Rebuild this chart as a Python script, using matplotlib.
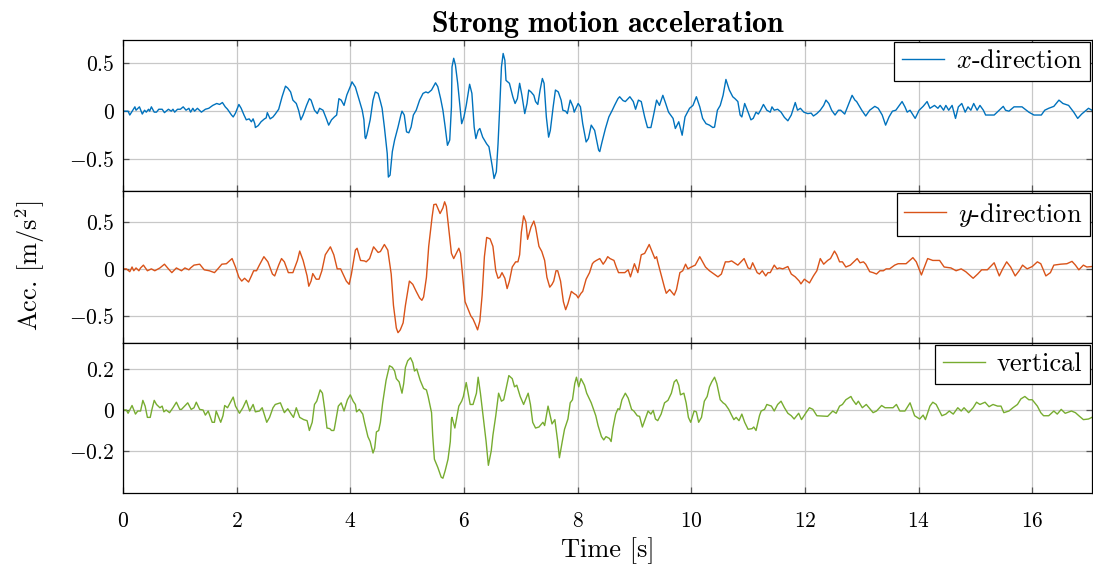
import numpy as np
import matplotlib
matplotlib.use("Agg")
import matplotlib.pyplot as plt
from matplotlib.ticker import FixedLocator, FixedFormatter

# ---- data (time [s], acceleration [m/s^2]) ----
x_dir = [
    (0.00, 0.00), (0.09, 0.00), (0.12, -0.04), (0.21, 0.045), (0.23, 0.01), (0.29, 0.045),
    (0.34, -0.03), (0.38, 0.01), (0.41, -0.01), (0.45, 0.02), (0.47, 0.00), (0.50, 0.045),
    (0.55, -0.01), (0.59, -0.01), (0.63, 0.02), (0.69, 0.02), (0.73, -0.015), (0.80, 0.02),
    (0.85, 0.00), (0.88, 0.02), (0.91, -0.01), (0.96, 0.02), (1.01, 0.02), (1.06, 0.045),
    (1.11, 0.01), (1.16, 0.03), (1.19, -0.01), (1.23, 0.03), (1.26, 0.00), (1.31, 0.03),
    (1.38, -0.01), (1.45, 0.02), (1.51, 0.03), (1.58, 0.06), (1.65, 0.08), (1.70, 0.07),
    (1.75, 0.09), (1.80, 0.045), (1.84, 0.02), (1.91, -0.04), (1.94, -0.06), (1.98, -0.02),
    (2.04, 0.07), (2.08, 0.03), (2.13, -0.04), (2.17, -0.09), (2.22, -0.08), (2.26, -0.11),
    (2.29, -0.08), (2.32, -0.13), (2.33, -0.17), (2.38, -0.15), (2.43, -0.11), (2.49, -0.08),
    (2.52, -0.07), (2.54, -0.015), (2.59, -0.08), (2.64, -0.06), (2.68, -0.03), (2.74, 0.02),
    (2.80, 0.15), (2.86, 0.26), (2.90, 0.24), (2.95, 0.20), (2.99, 0.115), (3.05, 0.08),
    (3.09, 0.01), (3.13, -0.09), (3.17, -0.04), (3.23, 0.06), (3.28, 0.13), (3.31, 0.115),
    (3.37, 0.01), (3.42, -0.025), (3.46, 0.03), (3.52, 0.01), (3.58, -0.08), (3.62, -0.145),
    (3.67, -0.09), (3.72, -0.06), (3.76, -0.04), (3.80, 0.13), (3.84, 0.115), (3.89, 0.06),
    (3.94, 0.17), (4.01, 0.27), (4.03, 0.305), (4.09, 0.25), (4.15, 0.13), (4.21, 0.01),
    (4.24, -0.09), (4.26, -0.27), (4.27, -0.285), (4.29, -0.25), (4.35, -0.09), (4.40, 0.115),
    (4.44, 0.20), (4.49, 0.185), (4.53, 0.10), (4.56, 0.03), (4.60, -0.165), (4.65, -0.44),
    (4.67, -0.685), (4.70, -0.665), (4.74, -0.42), (4.78, -0.30), (4.84, -0.165), (4.89, -0.04),
    (4.91, 0.00), (4.95, -0.04), (4.99, -0.215), (5.03, -0.225), (5.07, -0.165), (5.11, -0.04),
    (5.16, 0.01), (5.22, 0.115), (5.28, 0.185), (5.33, 0.20), (5.37, 0.19), (5.43, 0.22),
    (5.50, 0.295), (5.54, 0.255), (5.59, 0.13), (5.63, 0.01), (5.67, -0.165), (5.71, -0.355),
    (5.75, -0.30), (5.78, 0.045), (5.79, 0.46), (5.82, 0.55), (5.85, 0.48), (5.89, 0.29),
    (5.94, -0.01), (5.96, -0.13), (6.00, -0.06), (6.04, 0.06), (6.10, 0.28), (6.14, 0.185),
    (6.18, -0.165), (6.21, -0.285), (6.25, -0.20), (6.28, -0.18), (6.33, -0.27), (6.40, -0.34),
    (6.44, -0.37), (6.50, -0.58), (6.53, -0.70), (6.57, -0.63), (6.60, -0.34), (6.63, 0.045),
    (6.66, 0.46), (6.69, 0.60), (6.72, 0.53), (6.74, 0.32), (6.80, 0.29), (6.86, 0.15),
    (6.90, 0.08), (6.94, 0.13), (6.98, 0.29), (7.02, 0.165), (7.07, -0.025), (7.11, 0.08),
    (7.14, 0.22), (7.18, 0.20), (7.23, 0.165), (7.26, 0.10), (7.30, 0.07), (7.34, 0.22),
    (7.38, 0.34), (7.41, 0.29), (7.45, -0.06), (7.49, -0.27), (7.52, -0.20), (7.57, 0.045),
    (7.61, 0.22), (7.66, 0.20), (7.71, 0.115), (7.74, 0.01), (7.79, 0.00), (7.82, -0.025),
    (7.87, 0.115), (7.92, 0.045), (7.94, -0.01), (8.01, 0.08), (8.05, 0.045), (8.09, -0.13),
    (8.15, -0.32), (8.19, -0.285), (8.24, -0.145), (8.30, -0.20), (8.37, -0.405), (8.39, -0.42),
    (8.43, -0.32), (8.49, -0.18), (8.55, -0.06), (8.61, 0.01), (8.65, 0.06), (8.71, 0.13),
    (8.74, 0.15), (8.80, 0.11), (8.84, 0.10), (8.92, 0.15), (8.98, 0.10), (9.02, 0.02),
    (9.07, 0.115), (9.12, 0.10), (9.18, -0.06), (9.23, -0.17), (9.29, -0.17), (9.33, -0.06),
    (9.39, 0.115), (9.44, 0.06), (9.50, 0.165), (9.55, 0.08), (9.60, -0.01), (9.68, -0.075),
    (9.72, -0.18), (9.78, -0.11), (9.84, -0.25), (9.89, -0.06), (9.97, 0.03), (10.03, 0.06),
    (10.09, 0.15), (10.15, 0.045), (10.20, -0.075), (10.26, -0.13), (10.32, -0.145), (10.38, -0.17),
    (10.41, -0.165), (10.46, 0.01), (10.51, 0.06), (10.56, 0.165), (10.61, 0.33), (10.67, 0.22),
    (10.73, 0.15), (10.77, 0.13), (10.82, 0.10), (10.86, -0.04), (10.89, -0.06), (10.94, 0.08),
    (11.00, -0.01), (11.05, -0.09), (11.09, -0.075), (11.14, -0.01), (11.18, -0.03), (11.22, 0.01),
    (11.27, 0.07), (11.33, 0.01), (11.39, -0.01), (11.42, 0.045), (11.46, 0.01), (11.52, 0.02),
    (11.58, -0.01), (11.64, -0.065), (11.70, -0.10), (11.76, -0.04), (11.83, 0.09), (11.87, 0.01),
    (11.92, 0.03), (11.98, -0.01), (12.05, -0.025), (12.11, -0.02), (12.15, -0.05), (12.21, -0.025),
    (12.27, 0.01), (12.33, 0.06), (12.37, 0.115), (12.42, 0.08), (12.47, 0.01), (12.53, -0.04),
    (12.59, 0.01), (12.63, 0.01), (12.70, -0.03), (12.76, 0.06), (12.83, 0.165), (12.88, 0.115),
    (12.91, 0.10), (13.00, 0.01), (13.07, -0.05), (13.14, 0.01), (13.23, 0.05), (13.29, 0.03),
    (13.36, -0.04), (13.42, -0.145), (13.48, -0.06), (13.54, 0.00), (13.60, 0.01), (13.71, 0.10),
    (13.76, 0.045), (13.80, -0.01), (13.85, 0.01), (13.94, -0.075), (14.01, 0.01), (14.08, 0.05),
    (14.15, 0.10), (14.20, 0.03), (14.28, 0.06), (14.34, 0.03), (14.38, 0.06), (14.44, 0.01),
    (14.48, 0.06), (14.53, 0.01), (14.59, 0.06), (14.65, -0.075), (14.70, 0.045), (14.76, 0.08),
    (14.82, -0.01), (14.87, 0.045), (14.92, 0.01), (14.97, 0.08), (15.03, 0.01), (15.08, 0.06),
    (15.14, 0.01), (15.18, -0.04), (15.33, -0.04), (15.42, 0.01), (15.49, 0.05), (15.53, 0.01),
    (15.59, 0.00), (15.68, 0.045), (15.82, 0.045), (15.94, -0.01), (16.03, -0.04), (16.16, -0.04),
    (16.22, 0.01), (16.29, 0.03), (16.38, 0.05), (16.47, 0.115), (16.54, 0.08), (16.64, 0.06),
    (16.73, -0.01), (16.80, -0.075), (16.87, -0.03), (16.99, 0.03), (17.05, 0.01),
]

y_dir = [
    (0.00, 0.00), (0.06, 0.00), (0.12, -0.03), (0.16, 0.02), (0.19, -0.02), (0.23, 0.01),
    (0.28, -0.02), (0.31, 0.01), (0.36, 0.04), (0.43, -0.02), (0.50, 0.00), (0.56, -0.02),
    (0.65, 0.01), (0.73, 0.05), (0.80, 0.00), (0.86, -0.04), (0.94, 0.01), (1.03, -0.02),
    (1.09, 0.01), (1.16, -0.01), (1.19, 0.01), (1.25, 0.04), (1.35, 0.05), (1.43, -0.01),
    (1.52, -0.02), (1.61, -0.04), (1.67, 0.00), (1.74, 0.05), (1.82, 0.055), (1.92, 0.11),
    (1.98, 0.02), (2.04, -0.09), (2.09, -0.13), (2.14, -0.10), (2.21, -0.14), (2.26, -0.075),
    (2.30, -0.02), (2.35, -0.02), (2.40, 0.04), (2.48, 0.13), (2.55, 0.075), (2.63, -0.055),
    (2.67, -0.075), (2.74, 0.04), (2.79, 0.11), (2.84, 0.075), (2.91, -0.04), (2.99, -0.04),
    (3.07, 0.09), (3.11, 0.19), (3.17, 0.09), (3.24, -0.075), (3.27, -0.185), (3.31, -0.13),
    (3.34, -0.05), (3.40, -0.11), (3.45, -0.11), (3.50, -0.02), (3.56, 0.15), (3.65, 0.235),
    (3.71, 0.15), (3.77, 0.00), (3.83, 0.00), (3.93, -0.13), (3.98, -0.165), (4.02, -0.055),
    (4.09, 0.20), (4.12, 0.22), (4.18, 0.09), (4.25, 0.085), (4.28, 0.075), (4.34, 0.11),
    (4.41, 0.235), (4.49, 0.175), (4.53, 0.185), (4.60, 0.26), (4.66, 0.20), (4.72, -0.055),
    (4.76, -0.39), (4.81, -0.63), (4.84, -0.68), (4.88, -0.65), (4.93, -0.575), (4.97, -0.39),
    (5.04, -0.13), (5.10, -0.165), (5.16, -0.24), (5.22, -0.31), (5.26, -0.335), (5.29, -0.30),
    (5.34, -0.09), (5.38, 0.24), (5.44, 0.555), (5.47, 0.685), (5.51, 0.69), (5.58, 0.59),
    (5.63, 0.65), (5.66, 0.715), (5.69, 0.665), (5.74, 0.39), (5.78, 0.165), (5.82, 0.11),
    (5.88, 0.185), (5.91, 0.22), (5.94, 0.165), (5.98, -0.09), (6.02, -0.35), (6.07, -0.425),
    (6.12, -0.50), (6.16, -0.535), (6.20, -0.59), (6.24, -0.65), (6.28, -0.555), (6.32, -0.28),
    (6.36, 0.13), (6.40, 0.335), (6.46, 0.32), (6.51, 0.24), (6.56, -0.02), (6.60, -0.10),
    (6.63, -0.09), (6.67, -0.04), (6.72, -0.10), (6.76, -0.21), (6.80, -0.13), (6.85, 0.02),
    (6.91, 0.075), (6.95, 0.075), (6.98, 0.15), (7.01, 0.39), (7.05, 0.565), (7.09, 0.50),
    (7.12, 0.315), (7.18, 0.445), (7.23, 0.51), (7.26, 0.445), (7.32, 0.24), (7.37, 0.185),
    (7.42, 0.09), (7.46, -0.09), (7.51, -0.195), (7.55, -0.165), (7.58, -0.13), (7.62, -0.02),
    (7.65, -0.02), (7.70, -0.13), (7.75, -0.35), (7.79, -0.435), (7.83, -0.37), (7.89, -0.24),
    (7.93, -0.26), (7.98, -0.28), (8.01, -0.31), (8.06, -0.26), (8.09, -0.24), (8.15, -0.11),
    (8.21, -0.04), (8.26, 0.055), (8.29, 0.075), (8.33, 0.09), (8.39, 0.11), (8.45, 0.05),
    (8.49, 0.085), (8.53, 0.13), (8.57, 0.11), (8.64, 0.09), (8.68, 0.02), (8.72, -0.04),
    (8.83, -0.04), (8.89, -0.01), (8.93, -0.085), (9.00, 0.055), (9.06, -0.04), (9.12, 0.15),
    (9.18, 0.165), (9.26, 0.26), (9.31, 0.185), (9.36, 0.11), (9.39, 0.13), (9.41, 0.075),
    (9.46, -0.04), (9.53, -0.20), (9.56, -0.26), (9.62, -0.22), (9.70, -0.28), (9.74, -0.22),
    (9.80, -0.04), (9.85, -0.02), (9.90, 0.05), (9.94, 0.00), (10.00, 0.02), (10.07, 0.04),
    (10.15, 0.13), (10.20, 0.075), (10.25, 0.02), (10.32, -0.02), (10.40, -0.055), (10.47, -0.085),
    (10.53, -0.055), (10.60, 0.075), (10.66, 0.075), (10.71, 0.085), (10.82, 0.04), (10.93, 0.11),
    (11.00, 0.01), (11.04, 0.00), (11.08, 0.065), (11.16, -0.04), (11.20, -0.055), (11.25, -0.02),
    (11.31, -0.075), (11.35, -0.04), (11.39, -0.04), (11.46, 0.04), (11.51, 0.00), (11.55, 0.01),
    (11.61, 0.00), (11.70, 0.025), (11.76, -0.055), (11.83, -0.085), (11.90, -0.13), (11.93, -0.16),
    (11.99, -0.11), (12.08, -0.15), (12.15, -0.075), (12.21, -0.02), (12.27, 0.11), (12.33, 0.05),
    (12.40, 0.09), (12.45, 0.11), (12.52, 0.19), (12.56, 0.15), (12.61, 0.075), (12.66, 0.075),
    (12.72, 0.02), (12.80, 0.04), (12.86, 0.075), (12.92, 0.11), (12.97, 0.065), (13.03, 0.075),
    (13.07, 0.05), (13.14, -0.03), (13.20, -0.04), (13.26, -0.055), (13.32, -0.02), (13.38, -0.02),
    (13.43, 0.00), (13.49, 0.00), (13.58, 0.04), (13.64, 0.055), (13.78, 0.055), (13.90, 0.12),
    (13.96, 0.075), (14.05, -0.065), (14.09, 0.00), (14.16, 0.11), (14.25, 0.09), (14.37, 0.09),
    (14.45, 0.02), (14.57, 0.01), (14.66, -0.02), (14.75, 0.00), (14.83, -0.03), (14.96, -0.10),
    (15.04, -0.055), (15.11, -0.01), (15.21, -0.01), (15.33, 0.065), (15.42, -0.075), (15.48, 0.00),
    (15.55, 0.075), (15.62, 0.02), (15.70, -0.075), (15.77, -0.02), (15.83, 0.04), (15.91, 0.00),
    (16.00, 0.025), (16.09, 0.075), (16.15, 0.055), (16.24, -0.075), (16.32, -0.04), (16.38, 0.04),
    (16.50, 0.05), (16.61, 0.055), (16.70, 0.08), (16.76, 0.04), (16.82, -0.01), (16.90, 0.04),
    (16.96, 0.02), (17.05, 0.025),
]

vert = [
    (0.00, 0.00), (0.06, 0.00), (0.09, -0.016), (0.11, -0.005), (0.16, 0.022), (0.22, -0.02),
    (0.26, -0.005), (0.31, -0.005), (0.35, 0.047), (0.39, 0.019), (0.43, -0.036), (0.48, -0.036),
    (0.51, 0.003), (0.55, 0.047), (0.59, 0.027), (0.65, 0.011), (0.69, 0.019), (0.72, -0.009),
    (0.76, 0.00), (0.82, -0.013), (0.88, 0.011), (0.94, 0.038), (1.00, 0.003), (1.03, 0.003),
    (1.14, 0.035), (1.20, 0.003), (1.25, 0.011), (1.29, 0.038), (1.35, 0.003), (1.41, 0.00),
    (1.45, -0.025), (1.50, -0.005), (1.57, -0.06), (1.61, -0.06), (1.64, -0.005), (1.72, -0.06),
    (1.76, -0.028), (1.79, 0.022), (1.84, 0.011), (1.94, 0.063), (1.98, 0.019), (2.05, -0.016),
    (2.11, 0.011), (2.17, 0.047), (2.23, -0.005), (2.29, 0.027), (2.33, -0.009), (2.40, -0.005),
    (2.45, 0.011), (2.53, -0.06), (2.58, -0.036), (2.64, 0.011), (2.68, 0.027), (2.77, 0.035),
    (2.84, -0.013), (2.90, 0.006), (2.96, -0.02), (3.00, -0.036), (3.05, 0.011), (3.11, -0.036),
    (3.18, -0.047), (3.24, -0.052), (3.28, -0.10), (3.33, -0.06), (3.37, 0.027), (3.41, 0.043),
    (3.47, 0.098), (3.51, 0.082), (3.55, 0.003), (3.59, -0.088), (3.64, -0.091), (3.67, -0.10),
    (3.71, -0.10), (3.72, -0.091), (3.79, 0.019), (3.84, 0.035), (3.89, -0.005), (3.95, 0.05),
    (4.00, 0.074), (4.05, 0.043), (4.09, 0.027), (4.11, -0.009), (4.16, 0.003), (4.22, -0.02),
    (4.25, -0.06), (4.31, -0.13), (4.35, -0.154), (4.40, -0.21), (4.43, -0.186), (4.46, -0.107),
    (4.50, -0.10), (4.53, -0.06), (4.57, 0.035), (4.63, 0.145), (4.69, 0.216), (4.74, 0.208),
    (4.78, 0.19), (4.81, 0.153), (4.86, 0.137), (4.91, 0.082), (4.94, 0.129), (4.97, 0.208),
    (5.01, 0.24), (5.06, 0.255), (5.10, 0.231), (5.13, 0.19), (5.17, 0.20), (5.23, 0.145),
    (5.29, 0.105), (5.34, 0.098), (5.37, 0.066), (5.43, -0.013), (5.45, -0.123), (5.48, -0.24),
    (5.54, -0.28), (5.60, -0.328), (5.63, -0.333), (5.67, -0.296), (5.72, -0.24), (5.76, -0.154),
    (5.78, -0.044), (5.79, -0.036), (5.84, -0.088), (5.91, 0.019), (5.96, 0.043), (5.99, 0.066),
    (6.04, 0.134), (6.11, 0.027), (6.16, 0.027), (6.22, 0.082), (6.25, 0.16), (6.29, 0.082),
    (6.35, -0.06), (6.39, -0.154), (6.43, -0.27), (6.48, -0.20), (6.51, -0.123), (6.56, -0.028),
    (6.61, 0.082), (6.66, 0.043), (6.70, 0.05), (6.76, 0.129), (6.79, 0.168), (6.85, 0.153),
    (6.89, 0.113), (6.93, 0.121), (6.99, 0.066), (7.05, 0.027), (7.13, 0.082), (7.17, 0.027),
    (7.21, -0.06), (7.26, -0.088), (7.32, -0.083), (7.39, -0.06), (7.42, -0.076), (7.48, 0.019),
    (7.55, -0.068), (7.60, -0.047), (7.65, -0.154), (7.68, -0.233), (7.73, -0.154), (7.77, -0.094),
    (7.83, -0.044), (7.87, 0.035), (7.91, 0.05), (7.95, 0.129), (7.98, 0.16), (8.02, 0.113),
    (8.06, 0.153), (8.12, 0.121), (8.16, 0.082), (8.24, 0.035), (8.29, -0.005), (8.32, -0.028),
    (8.36, -0.076), (8.42, -0.13), (8.46, -0.146), (8.50, -0.13), (8.56, -0.139), (8.59, -0.154),
    (8.62, -0.091), (8.67, -0.02), (8.71, 0.006), (8.74, 0.003), (8.78, 0.05), (8.84, 0.082),
    (8.89, 0.058), (8.95, 0.003), (8.99, -0.005), (9.05, -0.028), (9.09, -0.031), (9.14, -0.083),
    (9.18, -0.052), (9.24, -0.005), (9.29, -0.02), (9.33, -0.002), (9.37, -0.044), (9.41, -0.052),
    (9.47, -0.02), (9.53, 0.035), (9.59, 0.047), (9.65, 0.082), (9.70, 0.137), (9.74, 0.148),
    (9.78, 0.121), (9.81, 0.074), (9.87, 0.082), (9.91, 0.035), (9.95, -0.036), (9.99, -0.06),
    (10.05, -0.005), (10.09, -0.009), (10.13, -0.06), (10.18, -0.036), (10.23, 0.043), (10.28, 0.066),
    (10.32, 0.113), (10.36, 0.137), (10.41, 0.16), (10.45, 0.129), (10.51, 0.05), (10.56, 0.035),
    (10.60, 0.027), (10.66, 0.003), (10.70, -0.02), (10.75, -0.047), (10.79, -0.036), (10.84, -0.052),
    (10.89, -0.02), (10.94, -0.06), (11.00, -0.094), (11.07, -0.091), (11.10, -0.083), (11.14, -0.10),
    (11.20, -0.028), (11.23, -0.005), (11.29, 0.003), (11.33, 0.027), (11.41, 0.019), (11.46, -0.005),
    (11.52, 0.027), (11.58, 0.043), (11.64, 0.011), (11.70, -0.016), (11.76, -0.028), (11.81, -0.044),
    (11.89, -0.016), (11.94, -0.047), (12.02, -0.013), (12.08, 0.011), (12.14, 0.003), (12.21, -0.028),
    (12.40, -0.031), (12.49, -0.005), (12.55, -0.016), (12.61, 0.019), (12.66, 0.027), (12.72, 0.05),
    (12.81, 0.066), (12.84, 0.05), (12.90, 0.027), (12.94, 0.043), (13.01, 0.011), (13.08, 0.027),
    (13.20, -0.013), (13.26, -0.005), (13.35, 0.022), (13.41, 0.011), (13.55, 0.011), (13.61, 0.027),
    (13.67, -0.005), (13.76, -0.005), (13.85, 0.035), (13.93, -0.028), (14.02, -0.044), (14.08, -0.025),
    (14.12, -0.047), (14.20, 0.019), (14.25, 0.038), (14.31, 0.027), (14.41, -0.028), (14.48, -0.02),
    (14.54, -0.005), (14.61, -0.02), (14.69, 0.011), (14.75, -0.005), (14.80, 0.011), (14.88, -0.013),
    (14.96, 0.011), (15.02, 0.038), (15.08, 0.027), (15.17, 0.038), (15.24, 0.016), (15.31, 0.027),
    (15.39, 0.019), (15.45, 0.019), (15.50, -0.013), (15.59, -0.005), (15.66, 0.011), (15.74, 0.027),
    (15.80, 0.054), (15.87, 0.066), (15.94, 0.05), (16.00, 0.05), (16.09, 0.019), (16.15, -0.013),
    (16.20, -0.028), (16.29, -0.028), (16.38, -0.005), (16.44, -0.02), (16.51, 0.003), (16.58, -0.016),
    (16.69, -0.005), (16.76, -0.013), (16.82, -0.028), (16.90, -0.047), (16.99, -0.044), (17.05, -0.036),
]

labels = [r'$x$-direction', r'$y$-direction', 'vertical']
colors = ['#0072BD', '#D95319', '#77AC30']
yticks = [[-0.5, 0, 0.5], [-0.5, 0, 0.5], [-0.2, 0, 0.2]]
ylims = [(-0.83, 0.74), (-0.79, 0.83), (-0.405, 0.327)]
xticks = [0, 2, 4, 6, 8, 10, 12, 14, 16]

# ---- style: LaTeX-ish look ----
plt.rcParams['font.family'] = 'cmr10'
plt.rcParams['mathtext.fontset'] = 'cm'
plt.rcParams['axes.unicode_minus'] = False

fig = plt.figure(figsize=(10.93, 5.69), dpi=100)

# axes rectangles (left, bottom, width, height) in figure fraction
boxes = [(0.1125, 0.6643, 0.8865, 0.2654),
         (0.1125, 0.3972, 0.8865, 0.2671),
         (0.1125, 0.1336, 0.8865, 0.2636)]

axes = []
for i, data in enumerate([x_dir, y_dir, vert]):
    t, a = np.array(data).T
    ax = fig.add_axes(boxes[i], sharex=axes[0] if axes else None)
    ax.plot(t, a, color=colors[i], lw=1.0, label=labels[i])
    ax.set_xlim(0, 17.05)
    ax.set_ylim(*ylims[i])
    ax.yaxis.set_major_locator(FixedLocator(yticks[i]))
    ax.yaxis.set_major_formatter(FixedFormatter(
        ['$%g$' % v if v != 0 else '$0$' for v in yticks[i]]))
    ax.xaxis.set_major_locator(FixedLocator(xticks))
    ax.xaxis.set_major_formatter(FixedFormatter(['$%d$' % v for v in xticks]))
    ax.grid(True, color='#c8c8c8', lw=0.9)
    ax.set_axisbelow(True)
    ax.tick_params(direction='in', length=4, width=0.9, color='#555555',
                   top=True, right=True, labelsize=15.5)
    ax.tick_params(axis='y', pad=6)
    ax.tick_params(axis='x', pad=13)
    for s in ax.spines.values():
        s.set_linewidth(0.9)
        s.set_color('black')
    if i < 2:
        ax.tick_params(labelbottom=False)
    leg = ax.legend(loc='upper right', fontsize=19, fancybox=False,
                    framealpha=1, edgecolor='black', borderaxespad=0.08,
                    handlelength=1.6, handletextpad=0.45, borderpad=0.28)
    leg.get_frame().set_linewidth(0.9)
    axes.append(ax)

axes[0].set_title(r'$\mathbf{Strong\ motion\ acceleration}$', fontsize=21.5, pad=6)
axes[2].set_xlabel('Time [s]', fontsize=19, labelpad=5)
fig.text(0.028, 0.5325, r'Acc. [m/s$^2$]', rotation=90, fontsize=19,
         ha='center', va='center')

fig.savefig('out.png', dpi=100)
